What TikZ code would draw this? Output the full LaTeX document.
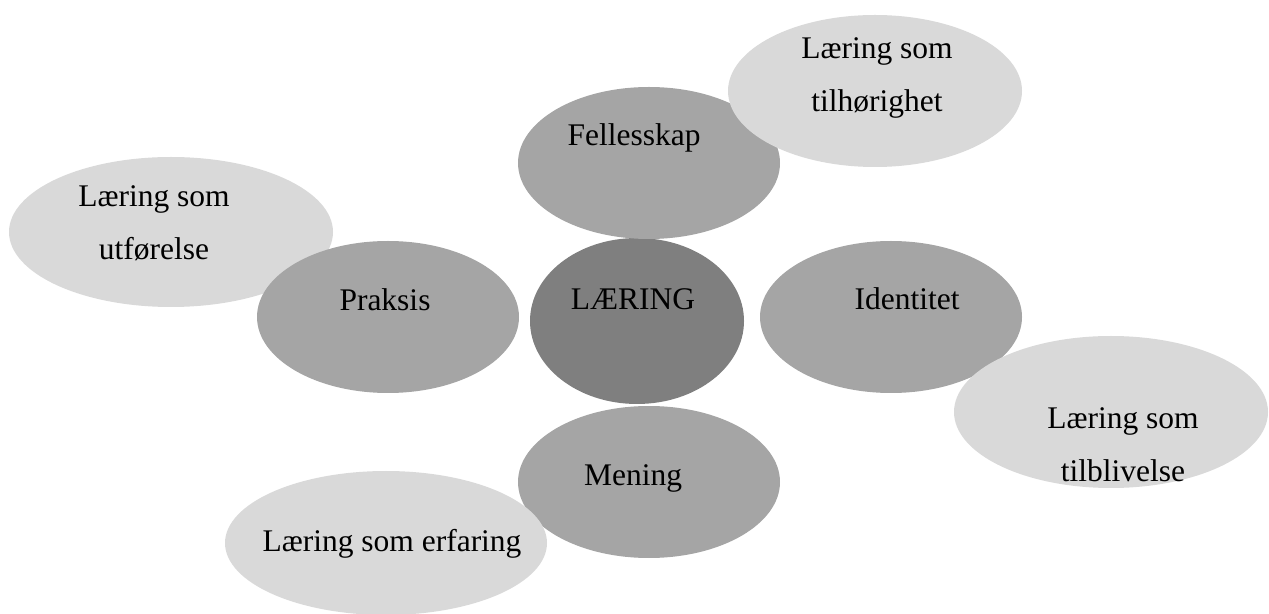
\documentclass[tikz,border=0pt]{standalone}
\usepackage{fontspec}
\setmainfont{Liberation Serif}
\usetikzlibrary{shapes.geometric}
\definecolor{dark}{HTML}{7F7F7F}
\definecolor{mid}{HTML}{A5A5A5}
\definecolor{light}{HTML}{D9D9D9}
\tikzset{
  blob/.style={ellipse, inner sep=0pt, draw=none},
  core/.style={blob, fill=dark},
  petal/.style={blob, fill=mid},
  outer/.style={blob, fill=light},
  lbl/.style={anchor=base, inner sep=0pt, align=center,
    font=\fontsize{15.75pt}{26.5pt}\selectfont, text=black}
}
\begin{document}
\begin{tikzpicture}[x=0.5pt,y=-0.5pt]
\useasboundingbox (0,0) rectangle (1269,614);
% ellipses (rx, ry in px -> minimum width = rx pt)
\node[outer, minimum width=162pt, minimum height=75pt] (utf) at (171,232) {};
\node[core, minimum width=107pt, minimum height=83pt] (laer) at (637,321) {};
\node[petal, minimum width=131pt, minimum height=76pt] (fell) at (649,163) {};
\node[petal, minimum width=131pt, minimum height=76pt] (men) at (649,482) {};
\node[petal, minimum width=131pt, minimum height=76pt] (prak) at (388,317) {};
\node[petal, minimum width=131pt, minimum height=76pt] (iden) at (891,317) {};
\node[outer, minimum width=147pt, minimum height=76pt] (tilh) at (875,91) {};
\node[outer, minimum width=157pt, minimum height=76pt] (tilb) at (1111,412) {};
\node[outer, minimum width=161pt, minimum height=72pt] (erf) at (386,543) {};
% labels (multi-line labels anchored at the last line's baseline)
\node[lbl] (tutf) at (154,260) {Læring som\\utførelse};
\node[lbl] (tlaer) at (633,310) {LÆRING};
\node[lbl] (tfell) at (634,146) {Fellesskap};
\node[lbl] (tmen) at (633,486) {Mening};
\node[lbl] (tprak) at (385,311) {Praksis};
\node[lbl] (tiden) at (907,310) {Identitet};
\node[lbl] (ttilh) at (877,112) {Læring som\\tilhørighet};
\node[lbl] (ttilb) at (1123,481) {Læring som\\tilblivelse};
\node[lbl] (terf) at (392,552) {Læring som erfaring};
\end{tikzpicture}
\end{document}
